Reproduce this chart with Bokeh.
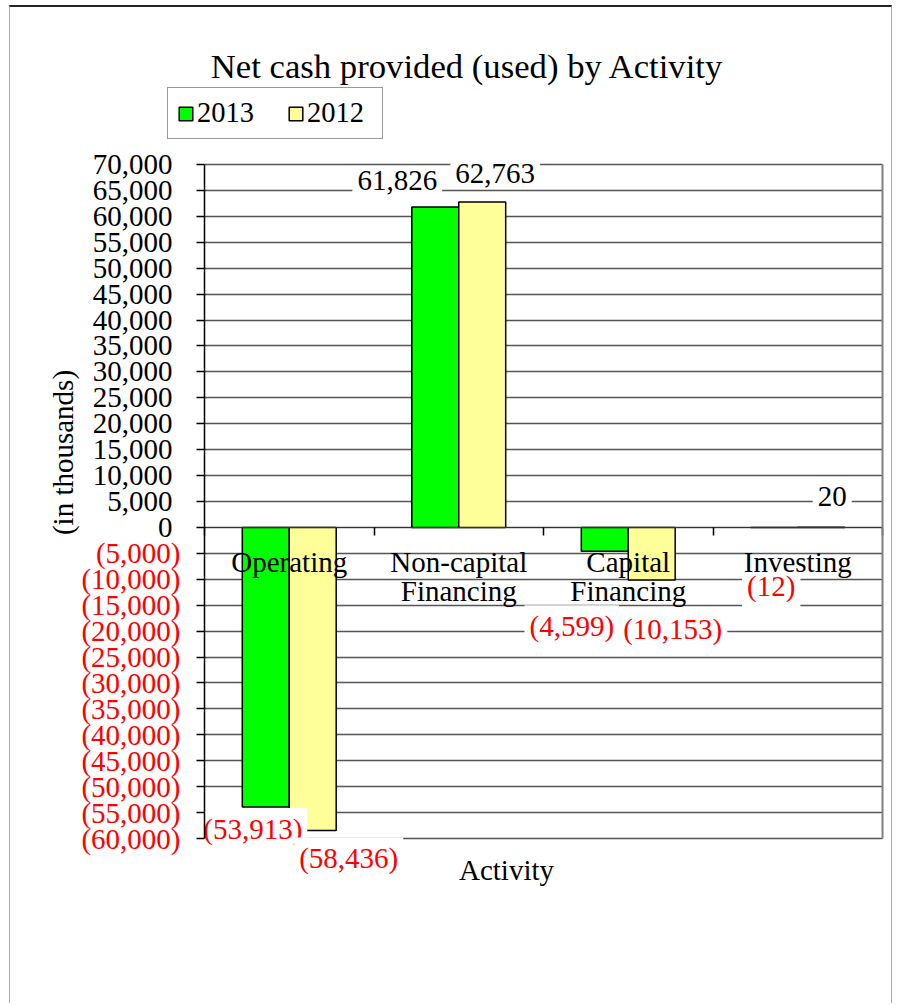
import math
from bokeh.plotting import figure
from bokeh.models import (ColumnDataSource, Range1d, FixedTicker, Label, Legend, LegendItem,
                          LinearAxis)
from bokeh.transform import dodge
from bokeh.embed import file_html
from bokeh.resources import INLINE

# ---------------- data ----------------
categories = ["Operating", "Non-capital\nFinancing", "Capital\nFinancing", "Investing"]
values_2013 = [-53913, 61826, -4599, -12]
values_2012 = [-58436, 62763, -10153, 20]
series_names = ["2013", "2012"]
y_ticks = [-60000, -55000, -50000, -45000, -40000, -35000, -30000, -25000, -20000,
           -15000, -10000, -5000, 0, 5000, 10000, 15000, 20000, 25000, 30000,
           35000, 40000, 45000, 50000, 55000, 60000, 65000, 70000]
title_text = "Net cash provided (used) by Activity"
x_title = "Activity"
y_title = "(in thousands)"

# ---------------- layout / style ----------------
FONT = "Liberation Serif"
FS = "29px"
BAR_W = 0.277
COLORS = ["#00FF00", "#FFFF99"]
W, H = 883, 998                      # canvas size
AREA = dict(left=194, right=872, top=157, bottom=831)   # plot area in canvas px
Y_MIN, Y_MAX = -60000, 70000
N = len(categories)
# screen-pixel nudges of the value labels (x_offset, y_offset)
nudge_2013 = [(-13, -22), (-38, 26), (-33, -75), (-3, -59)]
nudge_2012 = [(36, -28), (13, 29), (21, -49), (11, 31)]

def fmt(v):
    return f"({abs(v):,})" if v < 0 else f"{v:,}"

# ranges chosen so that the frame covers the whole canvas
xpx = (AREA["right"] - AREA["left"]) / N
ypx = (AREA["bottom"] - AREA["top"]) / (Y_MAX - Y_MIN)
x_range = Range1d(-AREA["left"] / xpx, N + (W - AREA["right"]) / xpx)
y_range = Range1d(Y_MIN - (H - AREA["bottom"]) / ypx, Y_MAX + AREA["top"] / ypx)

p = figure(width=W, height=H, x_range=x_range, y_range=y_range,
           output_backend="svg", toolbar_location=None,
           min_border_left=0, min_border_right=0, min_border_top=0, min_border_bottom=0)
p.title.visible = False
p.styles = {"margin-left": "9px", "margin-top": "5px",
            "border-top": "2px solid #222", "border-left": "1px solid #aaa",
            "border-right": "1px solid #aaa"}
p.background_fill_color = "white"
p.border_fill_color = "white"
p.outline_line_color = None

xc = [i + 0.5 for i in range(N)]
src = ColumnDataSource(dict(x=xc, y2013=values_2013, y2012=values_2012))

# grid
p.xgrid.visible = False
p.ygrid.ticker = FixedTicker(ticks=y_ticks)
p.ygrid.grid_line_color = "#555555"
p.ygrid.grid_line_width = 1.5
try:
    p.ygrid.cross_bounds = (0, N)
except Exception:
    p.ygrid.visible = False
    p.segment(x0=0, x1=N, y0=y_ticks, y1=y_ticks, line_color="#555555", line_width=1.5)

r13 = p.vbar(x=dodge("x", -BAR_W / 2, range=p.x_range), top="y2013", bottom=0, width=BAR_W,
             source=src, fill_color=COLORS[0], line_color="black", line_width=1.5)
r12 = p.vbar(x=dodge("x", BAR_W / 2, range=p.x_range), top="y2012", bottom=0, width=BAR_W,
             source=src, fill_color=COLORS[1], line_color="black", line_width=1.5)

# y axis (positive labels black, negatives drawn in red below)
ya = p.yaxis[0]
ya.fixed_location = 0
ya.bounds = (Y_MIN, Y_MAX)
ya.ticker = FixedTicker(ticks=y_ticks)
ya.major_label_overrides = {t: (f"{t:,}" if t >= 0 else "") for t in y_ticks}
ya.major_label_text_font = FONT
ya.major_label_text_font_size = FS
ya.major_label_text_color = "black"
ya.major_label_standoff = 24
ya.major_tick_out = 8
ya.major_tick_in = 0
ya.minor_tick_out = 0
ya.minor_tick_in = 0
ya.axis_line_color = "black"
ya.axis_line_width = 1.5
ya.major_tick_line_color = "black"
ya.major_tick_line_width = 1.5

for t in y_ticks:
    if t < 0:
        p.add_layout(Label(x=0, y=t, x_offset=-24, text=fmt(t),
                           text_align="right", text_baseline="middle",
                           text_font=FONT, text_font_size=FS, text_color="#FF0000"))

# right edge of the plot area
ra = LinearAxis(fixed_location=N, bounds=(Y_MIN, Y_MAX), ticker=FixedTicker(ticks=[]),
                axis_line_color="#808080", axis_line_width=2,
                major_tick_line_color=None, minor_tick_line_color=None)
p.add_layout(ra, "right")

# x axis at zero
xa = p.xaxis[0]
xa.fixed_location = 0
xa.bounds = (0, N)
xa.ticker = FixedTicker(ticks=xc, minor_ticks=list(range(N + 1)))
xa.major_label_overrides = {x: c for x, c in zip(xc, categories)}
xa.major_label_text_font = FONT
xa.major_label_text_font_size = FS
xa.major_label_text_color = "black"
xa.major_label_text_line_height = 0.9
xa.major_label_standoff = 11
xa.major_tick_out = 0
xa.major_tick_in = 0
xa.minor_tick_out = 8
xa.minor_tick_in = 0
xa.minor_tick_line_color = "black"
xa.minor_tick_line_width = 1.5
xa.axis_line_color = "#333333"
xa.axis_line_width = 1.2

# value labels (drawn above the bars, beneath the axis labels)
for vals, nudges, sign in ((values_2013, nudge_2013, -1), (values_2012, nudge_2012, 1)):
    for x, v, (dx, dy) in zip(xc, vals, nudges):
        p.add_layout(Label(x=x + sign * BAR_W / 2, y=v, text=fmt(v), x_offset=dx, y_offset=dy,
                           text_align="center", text_baseline="middle",
                           text_font=FONT, text_font_size=FS,
                           text_color="#FF0000" if v < 0 else "black",
                           background_fill_color="white", padding=5, level="glyph"))

# titles (canvas pixel positions, y measured from the bottom)
p.add_layout(Label(x=457, y=939, x_units="screen", y_units="screen", text=title_text,
                   text_align="center", text_baseline="middle",
                   text_font=FONT, text_font_size="34.7px", text_color="black"))
p.add_layout(Label(x=496, y=136, x_units="screen", y_units="screen", text=x_title,
                   text_align="center", text_baseline="middle",
                   text_font=FONT, text_font_size=FS, text_color="black"))
p.add_layout(Label(x=52, y=553, x_units="screen", y_units="screen", text=y_title,
                   angle=math.pi / 2, text_align="center", text_baseline="middle",
                   text_font=FONT, text_font_size=FS, text_color="black"))

legend = Legend(items=[LegendItem(label=series_names[0], renderers=[r13]),
                       LegendItem(label=series_names[1], renderers=[r12])],
                orientation="horizontal", location=(157, 866))
legend.label_text_font = FONT
legend.label_text_font_size = "28.5px"
legend.label_text_color = "black"
legend.glyph_width = 17
legend.glyph_height = 17
legend.label_standoff = 3
legend.label_width = 66
legend.spacing = 24
legend.padding = 9
legend.margin = 0
legend.border_line_color = "#333333"
legend.border_line_width = 1.5
legend.background_fill_alpha = 1.0
p.add_layout(legend, "center")

open("out.html", "w").write(file_html(p, INLINE))
